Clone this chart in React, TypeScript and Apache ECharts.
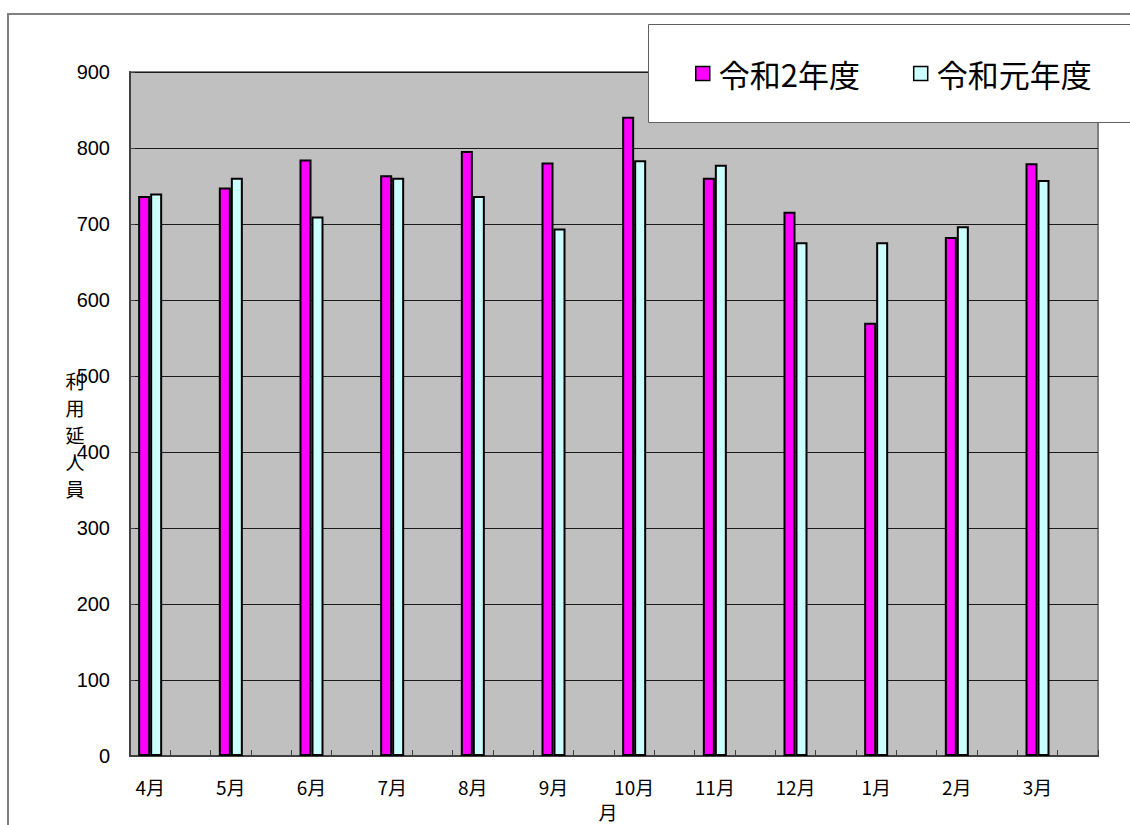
import React, { useEffect, useRef } from "react";
import * as echarts from "echarts";

const months = ["4月", "5月", "6月", "7月", "8月", "9月", "10月", "11月", "12月", "1月", "2月", "3月"];
const seriesNames = ["令和2年度", "令和元年度"];
const reiwa2 = [737, 748, 785, 764, 796, 781, 841, 761, 716, 570, 683, 780];
const reiwa1 = [740, 761, 710, 761, 737, 694, 784, 778, 676, 676, 697, 758];
const yTicks = { min: 0, max: 900, interval: 100 };
const yAxisName = "利用延人員";
const xAxisName = "月";

// Excel layout: every month is followed by an empty category slot
const slots: string[] = [];
const slotR2: (number | null)[] = [];
const slotR1: (number | null)[] = [];
months.forEach((m, i) => {
  slots.push(m, "");
  slotR2.push(reiwa2[i], null);
  slotR1.push(reiwa1[i], null);
});

export default function App() {
  const ref = useRef<HTMLDivElement>(null);
  useEffect(() => {
    if (!ref.current) return;
    const chart = echarts.init(ref.current, null, { renderer: "svg" });
    chart.setOption({
      animation: false,
      backgroundColor: "#ffffff",
      grid: {
        left: 130,
        top: 72,
        width: 968,
        height: 684,
        show: true,
        backgroundColor: "#C0C0C0",
        borderColor: "#808080",
        borderWidth: 2,
        containLabel: false,
      },
      legend: {
        left: 695,
        top: 58,
        padding: 0,
        itemWidth: 14,
        itemHeight: 14,
        itemGap: 53,
        icon: "rect",
        z: 6,
        data: seriesNames,
        textStyle: {
          fontFamily: "Noto Sans CJK JP",
          fontSize: 31,
          lineHeight: 30,
          color: "#000",
          padding: [0, 0, 0, 4],
        },
        itemStyle: { borderColor: "#000", borderWidth: 1.5 },
      },
      xAxis: {
        type: "category",
        data: slots,
        boundaryGap: true,
        axisLine: { show: true, lineStyle: { color: "#404040", width: 2 } },
        axisTick: { show: true, inside: true, length: 6, interval: 0, lineStyle: { color: "#404040", width: 1 } },
        axisLabel: {
          interval: 0,
          margin: 21,
          fontFamily: "Noto Sans CJK JP",
          fontSize: 19,
          color: "#000",
        },
        splitLine: { show: false },
      },
      yAxis: {
        type: "value",
        min: yTicks.min,
        max: yTicks.max,
        interval: yTicks.interval,
        axisLine: { show: true, lineStyle: { color: "#404040", width: 2 } },
        axisTick: { show: true, inside: true, length: 5, lineStyle: { color: "#404040" } },
        axisLabel: {
          margin: 20,
          fontFamily: "Liberation Sans",
          fontSize: 20,
          color: "#000",
        },
        splitLine: { show: true, lineStyle: { color: "#1a1a1a", width: 1 } },
      },
      series: [
        {
          name: seriesNames[0],
          type: "bar",
          data: slotR2,
          barWidth: 12,
          barGap: "0%",
          itemStyle: { color: "#FF00FF", borderColor: "#000", borderWidth: 2 },
        },
        {
          name: seriesNames[1],
          type: "bar",
          data: slotR1,
          barWidth: 12,
          barGap: "0%",
          itemStyle: { color: "#CCFFFF", borderColor: "#000", borderWidth: 2 },
        },
      ],
      graphic: [
        {
          type: "rect",
          z: 1,
          silent: true,
          shape: { x: 8, y: 14, width: 1300, height: 1000 },
          style: { fill: "none", stroke: "#808080", lineWidth: 2 },
        },
        {
          type: "rect",
          z: 5,
          silent: true,
          shape: { x: 648.5, y: 24.5, width: 600, height: 98 },
          style: { fill: "#ffffff", stroke: "#606060", lineWidth: 1 },
        },
        {
          type: "text",
          z: 5,
          x: 75,
          y: 367,
          style: {
            text: yAxisName.split("").join("\n"),
            fontFamily: "Noto Sans CJK JP",
            fontSize: 19,
            lineHeight: 27,
            fill: "#000",
            textAlign: "center",
            textVerticalAlign: "top",
          },
        },
        {
          type: "text",
          z: 5,
          x: 608,
          y: 811,
          style: {
            text: xAxisName,
            fontFamily: "Noto Sans CJK JP",
            fontSize: 19,
            fill: "#000",
            textAlign: "center",
            textVerticalAlign: "middle",
          },
        },
      ],
    });
    return () => chart.dispose();
  }, []);
  return (
    <div
      ref={ref}
      style={{ position: "fixed", left: 0, top: 0, width: 1130, height: 825 }}
    />
  );
}
